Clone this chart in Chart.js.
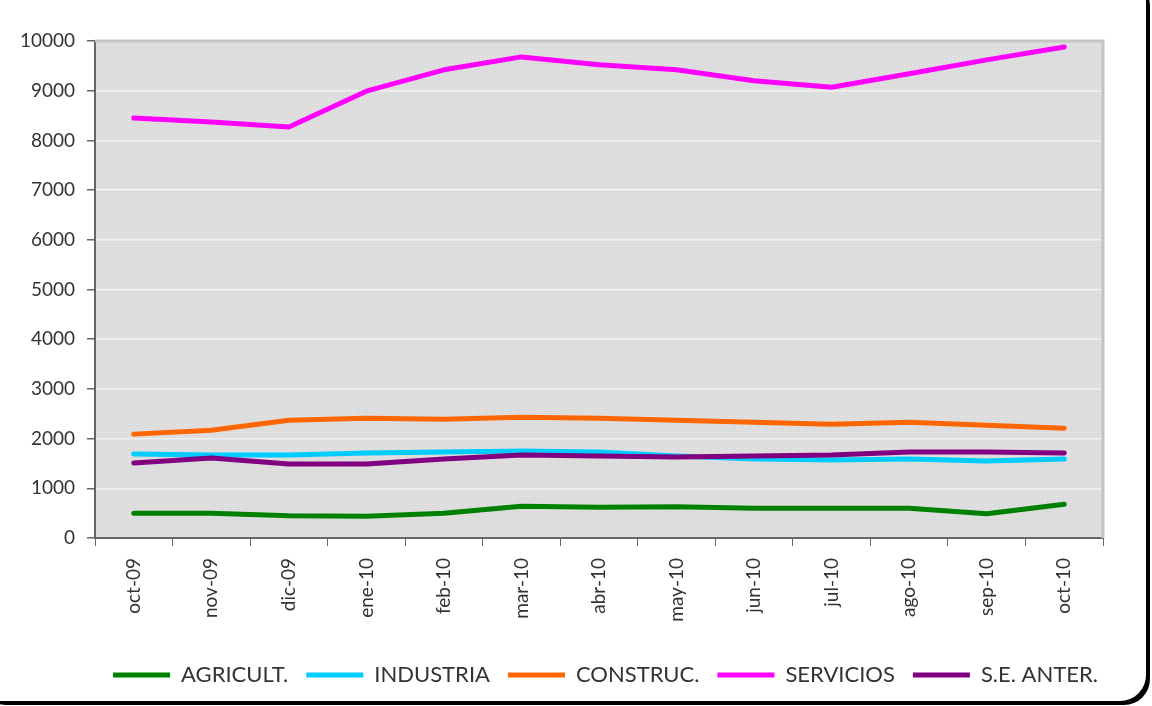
<!DOCTYPE html>
<html>
<head>
<meta charset="utf-8">
<script src="https://cdn.jsdelivr.net/npm/chart.js@4/dist/chart.umd.min.js"></script>
<style>
  html, body { margin: 0; padding: 0; width: 1152px; height: 706px; overflow: hidden; background: #fff; }
  #frame { position: absolute; left: -24px; top: -24px; width: 1170px; height: 725px; border-radius: 26px; background: #fff; box-shadow: 4px 4px 0 #000; }
  #wrap { position: absolute; left: 0; top: 0; width: 1152px; height: 706px; }
</style>
</head>
<body>
<div id="frame"></div>
<div id="wrap"><canvas id="c" width="1152" height="706"></canvas></div>
<script>
const categories = ['oct-09','nov-09','dic-09','ene-10','feb-10','mar-10','abr-10','may-10','jun-10','jul-10','ago-10','sep-10','oct-10'];
const agricult  = [500, 500, 450, 440, 500, 640, 620, 630, 600, 600, 600, 490, 680];
const industria = [1690, 1670, 1670, 1710, 1730, 1750, 1730, 1650, 1590, 1570, 1590, 1550, 1590];
const construc  = [2090, 2170, 2370, 2410, 2390, 2430, 2410, 2370, 2330, 2290, 2330, 2270, 2210];
const servicios = [8450, 8370, 8270, 8990, 9420, 9680, 9520, 9420, 9200, 9070, 9340, 9620, 9880];
const seAnter   = [1510, 1610, 1490, 1490, 1590, 1670, 1650, 1630, 1650, 1670, 1730, 1730, 1710];
const seriesNames = ['AGRICULT.', 'INDUSTRIA', 'CONSTRUC.', 'SERVICIOS', 'S.E. ANTER.'];
const seriesColors = ['#008000', '#00ccff', '#ff6600', '#ff00ff', '#800080'];
const seriesData = [agricult, industria, construc, servicios, seAnter];
const yTicks = [0,1000,2000,3000,4000,5000,6000,7000,8000,9000,10000];

const FONT = 'Lato, "Open Sans", sans-serif';

function makePattern(ctx) {
  const p = document.createElement('canvas');
  p.width = 4; p.height = 4;
  const g = p.getContext('2d');
  g.fillStyle = '#dadada';
  g.fillRect(0,0,4,4);
  g.fillStyle = '#ececec';
  g.fillRect(0,0,1,1); g.fillRect(2,2,1,1);
  g.fillStyle = '#e2e2e2';
  g.fillRect(2,0,1,1); g.fillRect(0,2,1,1);
  return ctx.createPattern(p, 'repeat');
}

const bgPlugin = {
  id: 'bgPlugin',
  afterLayout(chart) {
    const lg = chart.legend;
    if (lg) { lg.left += 54; lg.right += 54; }
  },
  beforeDraw(chart) {
    const {ctx, chartArea: a} = chart;
    ctx.save();
    ctx.fillStyle = makePattern(ctx);
    ctx.fillRect(a.left, a.top, a.right - a.left, a.bottom - a.top);
    ctx.restore();
  },
  afterDatasetsDraw(chart) {
    const {ctx, chartArea: a} = chart;
    ctx.save();
    ctx.strokeStyle = '#c4c4c4';
    ctx.lineWidth = 3;
    ctx.beginPath();
    ctx.moveTo(a.left, a.top);
    ctx.lineTo(a.right, a.top);
    ctx.lineTo(a.right, a.bottom);
    ctx.stroke();
    ctx.restore();
  }
};

const datasets = seriesNames.map((name, i) => ({
  label: name,
  data: seriesData[i],
  borderColor: seriesColors[i],
  backgroundColor: seriesColors[i],
  borderWidth: 5,
  pointRadius: 0,
  tension: 0,
  borderCapStyle: 'round',
  borderJoinStyle: 'round',
  fill: false,
  order: seriesNames.length - i
}));

new Chart(document.getElementById('c'), {
  type: 'line',
  data: { labels: categories, datasets },
  plugins: [bgPlugin],
  options: {
    responsive: false,
    animation: false,
    devicePixelRatio: 1,
    layout: { padding: { left: 0, top: 41, right: 49, bottom: 10 } },
    plugins: {
      tooltip: { enabled: false },
      legend: {
        position: 'bottom',
        labels: {
          font: { family: FONT, size: 22 },
          color: '#333',
          boxWidth: 57,
          boxHeight: 5,
          padding: 18,
          sort: (a, b) => a.datasetIndex - b.datasetIndex,
          generateLabels(chart) {
            return chart.data.datasets.map((d, i) => ({
              text: d.label,
              fillStyle: d.borderColor,
              strokeStyle: d.borderColor,
              lineWidth: 0,
              fontColor: '#333',
              datasetIndex: i
            }));
          }
        }
      }
    },
    scales: {
      x: {
        offset: true,
        grid: { offset: true, color: 'rgba(0,0,0,0)', tickColor: '#666', tickLength: 8, lineWidth: 1 },
        border: { color: '#666', width: 2 },
        ticks: { font: { family: FONT, size: 19 }, color: '#333', maxRotation: 90, minRotation: 90, padding: 12, autoSkip: false },
        afterFit(scale) { scale.height = 108; }
      },
      y: {
        min: 0, max: 10000,
        afterBuildTicks(scale) { scale.ticks = yTicks.map(v => ({ value: v })); },
        grid: { color: '#f2f2f2', tickColor: '#666', tickLength: 8, lineWidth: 1.5 },
        border: { color: '#666', width: 2 },
        ticks: { font: { family: FONT, size: 19 }, color: '#333', padding: 12, callback: v => String(v) },
        afterFit(scale) { scale.width = 95; }
      }
    }
  }
});
</script>
</body>
</html>
